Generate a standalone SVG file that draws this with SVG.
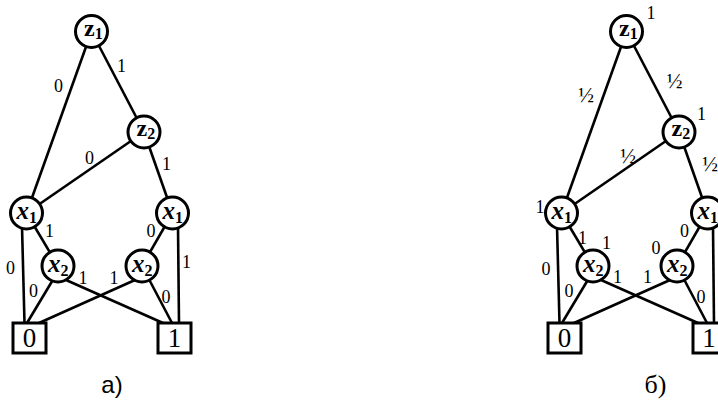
<svg xmlns="http://www.w3.org/2000/svg" width="718" height="401" viewBox="0 0 718 401">
<style>
.e{stroke:#000;stroke-width:2.6;fill:none}
.n circle{fill:#fff;stroke:#000;stroke-width:3}
.n rect{fill:#fff;stroke:#000;stroke-width:3}
.z,.x,.b,.l,.h,.c2{font-family:"Liberation Serif","Times New Roman","DejaVu Serif",serif}
.z{font-size:24px;font-weight:bold}
.x{font-size:25px;font-weight:bold;font-style:italic}
.sub{font-size:16px;font-style:normal;font-weight:bold}
.b{font-size:27px;text-anchor:middle}
.l{font-size:18px;text-anchor:middle}
.h{font-size:21px;text-anchor:middle}
.c1{font-family:"Liberation Sans",Arial,sans-serif;font-size:24px;text-anchor:middle}
.c2{font-size:26px;text-anchor:middle}
</style>
<g id="connectors">
<g id="edges-a">
<line class="e" x1="91.5" y1="31.5" x2="26.5" y2="213"/>
<line class="e" x1="91.5" y1="31.5" x2="144" y2="132"/>
<line class="e" x1="144" y1="132" x2="26.5" y2="213"/>
<line class="e" x1="144" y1="132" x2="172.5" y2="213"/>
<line class="e" x1="26.5" y1="213" x2="58" y2="266"/>
<line class="e" x1="172.5" y1="213" x2="142" y2="266"/>
<line class="e" x1="22" y1="226" x2="24.5" y2="323"/>
<line class="e" x1="178" y1="226" x2="179" y2="323"/>
<line class="e" x1="60" y1="268" x2="27" y2="323"/>
<line class="e" x1="66" y1="280" x2="163" y2="323"/>
<line class="e" x1="135" y1="280" x2="39" y2="323"/>
<line class="e" x1="142" y1="266" x2="172" y2="323"/>
</g>
<g id="edges-b">
<line class="e" x1="626.5" y1="31.5" x2="561.5" y2="213"/>
<line class="e" x1="626.5" y1="31.5" x2="679" y2="132"/>
<line class="e" x1="679" y1="132" x2="561.5" y2="213"/>
<line class="e" x1="679" y1="132" x2="707.5" y2="213"/>
<line class="e" x1="561.5" y1="213" x2="593" y2="266"/>
<line class="e" x1="707.5" y1="213" x2="677" y2="266"/>
<line class="e" x1="557" y1="226" x2="559.5" y2="323"/>
<line class="e" x1="713" y1="226" x2="714" y2="323"/>
<line class="e" x1="595" y1="268" x2="562" y2="323"/>
<line class="e" x1="601" y1="280" x2="698" y2="323"/>
<line class="e" x1="670" y1="280" x2="574" y2="323"/>
<line class="e" x1="677" y1="266" x2="707" y2="323"/>
</g>
</g>
<g id="a-z1" class="n"><circle cx="91.5" cy="31.5" r="16"/><text class="z" x="84" y="35.5">z<tspan class="sub" dy="3">1</tspan></text></g>
<g id="a-z2" class="n"><circle cx="144" cy="132" r="16"/><text class="z" x="136.5" y="136">z<tspan class="sub" dy="3">2</tspan></text></g>
<g id="a-x1l" class="n"><circle cx="26.5" cy="213" r="16"/><text class="x" x="16.5" y="219">x<tspan class="sub" dy="4">1</tspan></text></g>
<g id="a-x1r" class="n"><circle cx="172.5" cy="213" r="16"/><text class="x" x="162.5" y="219">x<tspan class="sub" dy="4">1</tspan></text></g>
<g id="a-x2l" class="n"><circle cx="58" cy="266" r="16"/><text class="x" x="48" y="272">x<tspan class="sub" dy="4">2</tspan></text></g>
<g id="a-x2r" class="n"><circle cx="142" cy="266" r="16"/><text class="x" x="132" y="272">x<tspan class="sub" dy="4">2</tspan></text></g>
<g id="a-t0" class="n"><rect x="13" y="323" width="33" height="30"/><text class="b" x="29.5" y="347">0</text></g>
<g id="a-t1" class="n"><rect x="158" y="323" width="33" height="30"/><text class="b" x="174.5" y="347">1</text></g>
<g id="b-z1" class="n"><circle cx="626.5" cy="31.5" r="16"/><text class="z" x="619" y="35.5">z<tspan class="sub" dy="3">1</tspan></text></g>
<g id="b-z2" class="n"><circle cx="679" cy="132" r="16"/><text class="z" x="671.5" y="136">z<tspan class="sub" dy="3">2</tspan></text></g>
<g id="b-x1l" class="n"><circle cx="561.5" cy="213" r="16"/><text class="x" x="551.5" y="219">x<tspan class="sub" dy="4">1</tspan></text></g>
<g id="b-x1r" class="n"><circle cx="707.5" cy="213" r="16"/><text class="x" x="697.5" y="219">x<tspan class="sub" dy="4">1</tspan></text></g>
<g id="b-x2l" class="n"><circle cx="593" cy="266" r="16"/><text class="x" x="583" y="272">x<tspan class="sub" dy="4">2</tspan></text></g>
<g id="b-x2r" class="n"><circle cx="677" cy="266" r="16"/><text class="x" x="667" y="272">x<tspan class="sub" dy="4">2</tspan></text></g>
<g id="b-t0" class="n"><rect x="548" y="323" width="33" height="30"/><text class="b" x="564.5" y="347">0</text></g>
<g id="b-t1" class="n"><rect x="693" y="323" width="33" height="30"/><text class="b" x="709" y="347">1</text></g>
<g id="labels-a">
<text class="l" x="58.5" y="92">0</text>
<text class="l" x="121.5" y="72">1</text>
<text class="l" x="89.5" y="164">0</text>
<text class="l" x="166.5" y="170">1</text>
<text class="l" x="49.5" y="237">1</text>
<text class="l" x="10.5" y="274">0</text>
<text class="l" x="33.5" y="297">0</text>
<text class="l" x="83" y="284">1</text>
<text class="l" x="114" y="284">1</text>
<text class="l" x="151" y="237">0</text>
<text class="l" x="186.5" y="268">1</text>
<text class="l" x="166" y="303">0</text>
<text class="c1" x="112" y="393">a)</text>
</g>
<g id="labels-b">
<text class="l" x="651" y="19">1</text>
<text class="h" x="586" y="102">½</text>
<text class="h" x="674.5" y="88">½</text>
<text class="l" x="701.5" y="120">1</text>
<text class="h" x="628" y="163">½</text>
<text class="h" x="710" y="171">½</text>
<text class="l" x="540" y="213">1</text>
<text class="l" x="582.5" y="244">1</text>
<text class="l" x="606.5" y="249">1</text>
<text class="l" x="546" y="275">0</text>
<text class="l" x="569" y="297">0</text>
<text class="l" x="617.5" y="283">1</text>
<text class="l" x="647.5" y="283">1</text>
<text class="l" x="656" y="254">0</text>
<text class="l" x="684.5" y="237">0</text>
<text class="l" x="701" y="303">0</text>
<text class="c2" x="655.5" y="393">б)</text>
</g>
</svg>
